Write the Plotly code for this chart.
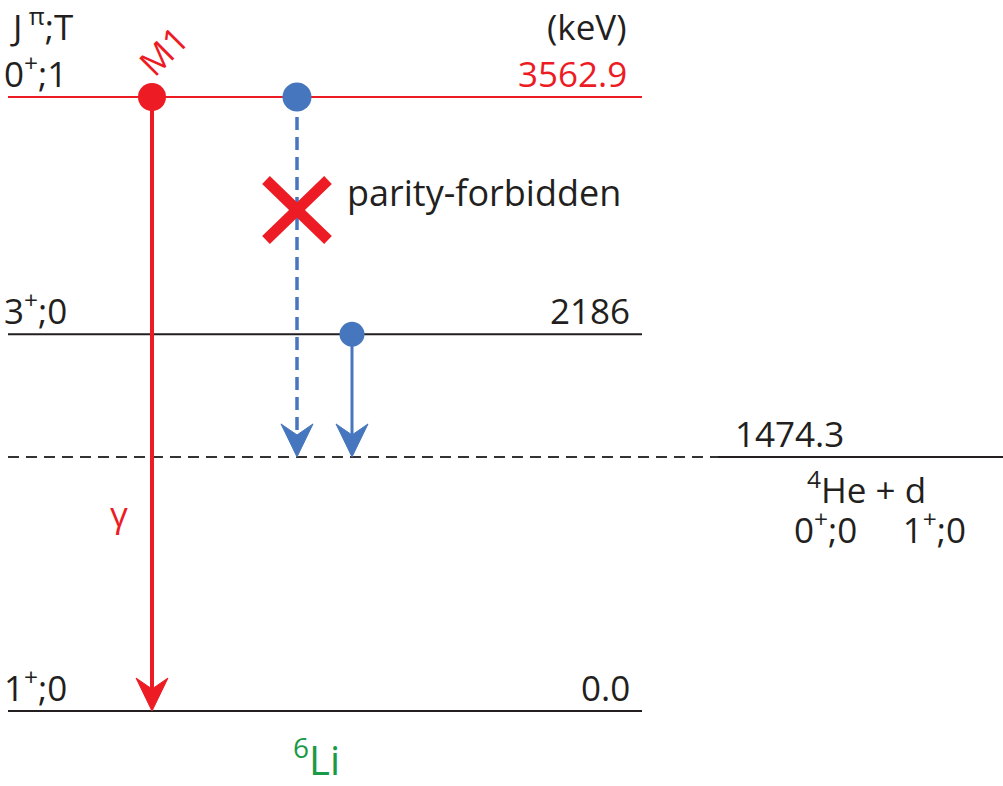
import plotly.graph_objects as go

# ---------------- data ----------------
level_energies = [3562.9, 2186.0, 1474.3, 0.0]          # keV
level_jpi = ["0<sup>+</sup>;1", "3<sup>+</sup>;0", "", "1<sup>+</sup>;0"]
level_energy_labels = ["3562.9", "2186", "1474.3", "0.0"]
threshold_energy = 1474.3
threshold_partners = ["<sup>4</sup>He + d", "0<sup>+</sup>;0     1<sup>+</sup>;0"]
nucleus_label = "<sup>6</sup>Li"

# transitions: (x position, from E, to E)
gamma_M1 = (152, 3562.9, 0.0)
forbidden_decay = (297, 3562.9, 1474.3)
allowed_decay = (352, 2186.0, 1474.3)

# ---------------- style ----------------
RED = "#ED1C24"
BLUE = "#4677BE"
BLACK = "#231F20"
GREEN = "#1A9A47"
FONT = "Open Sans"
FS = 35

X_LEFT, X_RIGHT = 8, 642
X_THR_SPLIT, X_THR_END = 718, 1003
px_per_keV = (711 - 97) / 3562.9
Y_TOP = 711 / px_per_keV
Y_BOT = -75 / px_per_keV


def e_at(py):
    """energy value corresponding to a pixel row of the canvas (for free labels)"""
    return (711 - py) / px_per_keV


fig = go.Figure()

# level lines
top = max(level_energies)
for E in level_energies:
    if E == threshold_energy:
        fig.add_trace(go.Scatter(x=[X_LEFT, X_THR_SPLIT], y=[E, E], mode="lines",
                                 line=dict(color="#333333", width=2, dash="11px,7px"),
                                 hoverinfo="skip"))
        fig.add_trace(go.Scatter(x=[X_THR_SPLIT, X_THR_END], y=[E, E], mode="lines",
                                 line=dict(color=BLACK, width=2), hoverinfo="skip"))
    else:
        col = RED if E == top else BLACK
        fig.add_trace(go.Scatter(x=[X_LEFT, X_RIGHT], y=[E, E], mode="lines",
                                 line=dict(color=col, width=2), hoverinfo="skip"))

# arrows: shaft + filled notched head
HEAD_LEN, HEAD_HALF, HEAD_NOTCH = 33, 16, 22


def arrow(trans, color, width, dash=None):
    x, e0, e1 = trans
    notch_e = e1 + HEAD_NOTCH / px_per_keV
    back_e = e1 + HEAD_LEN / px_per_keV
    fig.add_trace(go.Scatter(x=[x, x], y=[e0, notch_e], mode="lines",
                             line=dict(color=color, width=width, dash=dash),
                             hoverinfo="skip"))
    fig.add_trace(go.Scatter(x=[x, x - HEAD_HALF, x, x + HEAD_HALF, x],
                             y=[e1, back_e, notch_e, back_e, e1],
                             mode="lines", fill="toself", fillcolor=color,
                             line=dict(color=color, width=1), hoverinfo="skip"))


arrow(gamma_M1, RED, 4)
arrow(forbidden_decay, BLUE, 3.5, dash="13px,7px")
arrow(allowed_decay, BLUE, 3)

# red cross over the forbidden line
cx, cE = forbidden_decay[0], e_at(210)
dx, dE = 31, 30 / px_per_keV
for s in (1, -1):
    fig.add_trace(go.Scatter(x=[cx - dx, cx + dx], y=[cE + s * dE, cE - s * dE],
                             mode="lines", line=dict(color=RED, width=11),
                             hoverinfo="skip"))

# start dots
fig.add_trace(go.Scatter(x=[gamma_M1[0]], y=[gamma_M1[1]], mode="markers",
                         marker=dict(color=RED, size=28, opacity=1, line=dict(width=0)),
                         hoverinfo="skip"))
fig.add_trace(go.Scatter(x=[forbidden_decay[0], allowed_decay[0]],
                         y=[forbidden_decay[1], allowed_decay[1]], mode="markers",
                         marker=dict(color=BLUE, size=[29, 25], opacity=1,
                                     line=dict(width=0)),
                         hoverinfo="skip"))

annotations = []
CENTER_K = 0.617  # distance (em) from box bottom to visual centre of digits


def txt(x, E, s, center_above, color=BLACK, xanchor="left", size=FS, angle=0):
    """place text so that its visual centre is `center_above` px above energy E"""
    annotations.append(dict(x=x, y=E, text=s, showarrow=False, xref="x", yref="y",
                            xanchor=xanchor, yanchor="bottom",
                            yshift=center_above - CENTER_K * size,
                            textangle=angle,
                            font=dict(family=FONT, size=size, color=color)))


txt(X_LEFT, top, "J<sup> π</sup>;T", 67)
txt(629, top, "(keV)", 67, xanchor="right")

for E, jpi, lab in zip(level_energies, level_jpi, level_energy_labels):
    col = RED if E == top else BLACK
    if jpi:
        txt(X_LEFT - 6, E, jpi, 20)
    if E == threshold_energy:
        txt(733, E, lab, 20)
    else:
        txt(632 if E != top else 629, E, lab, 20, color=col, xanchor="right")

txt(866, threshold_energy, threshold_partners[0], -36, xanchor="center")
txt(880, threshold_energy, threshold_partners[1], -76, xanchor="center")

annotations.append(dict(x=163, y=e_at(50), text="M1", showarrow=False,
                        xanchor="center", yanchor="middle", textangle=-45,
                        font=dict(family=FONT, size=FS, color=RED)))
txt(119, e_at(517), "γ", 0, color=RED, xanchor="center")
txt(345, e_at(197), "parity-forbidden", 0, size=36)
txt(316, e_at(764), nucleus_label, 0, color=GREEN, xanchor="center", size=40)

fig.update_layout(
    width=1003, height=786, margin=dict(l=0, r=0, t=0, b=0),
    paper_bgcolor="white", plot_bgcolor="white", showlegend=False,
    xaxis=dict(range=[0, 1003], visible=False, fixedrange=True),
    yaxis=dict(range=[Y_BOT, Y_TOP], visible=False, fixedrange=True),
    annotations=annotations,
)

fig.write_html("out.html")
